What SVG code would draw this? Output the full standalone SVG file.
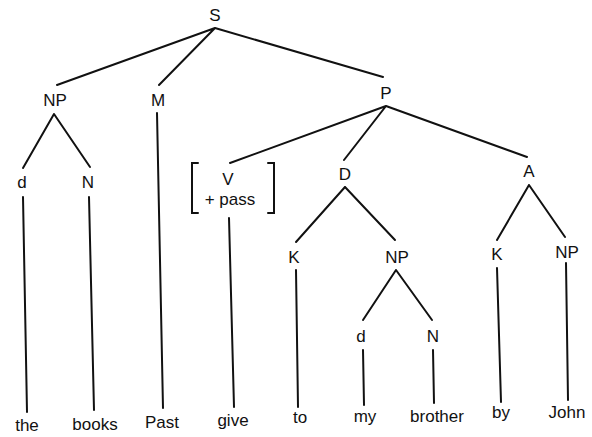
<svg xmlns="http://www.w3.org/2000/svg" width="592" height="437" viewBox="0 0 592 437">
<style>
text{font-family:"Liberation Sans",Arial,sans-serif;font-size:17px;fill:#111;text-anchor:middle}
.e{stroke:#111;stroke-width:2;fill:none;stroke-linecap:round}
</style>
<rect width="592" height="437" fill="#fff"/>
<g id="connectors" class="e">
<path d="M215 28L57 85M215 28L159 85M215 28L383 77"/>
<path d="M54 114L23 168M54 114L90 167"/>
<path d="M23 197L27 412M89 197L94 410M157 113L163 408"/>
<path d="M386 106L230 163M386 106L344 160M386 106L527 157"/>
<path d="M229 218L234 407"/>
<path d="M345 187L296 242M345 187L395 240"/>
<path d="M296 270L298 407"/>
<path d="M396 270L363 320M396 270L432 320"/>
<path d="M363 350L364 405M433 350L434 403"/>
<path d="M529 185L497 240M529 185L565 237"/>
<path d="M497 268L501 402M566 263L568 400"/>
</g>
<g id="S"><text x="215" y="21">S</text></g>
<g id="NP1"><text x="55" y="106">NP</text></g>
<g id="M"><text x="158" y="106">M</text></g>
<g id="P"><text x="386" y="99">P</text></g>
<g id="d1"><text x="22" y="188">d</text></g>
<g id="N1"><text x="88" y="188">N</text></g>
<g id="V">
<path class="e" d="M198 163H192V213H198M268 163H274V213H268"/>
<text x="228" y="185">V</text>
<text x="230" y="205">+ pass</text>
</g>
<g id="D"><text x="345" y="180">D</text></g>
<g id="A"><text x="529" y="177">A</text></g>
<g id="K1"><text x="294" y="263">K</text></g>
<g id="NP2"><text x="397" y="263">NP</text></g>
<g id="K2"><text x="497" y="260">K</text></g>
<g id="NP3"><text x="567" y="258">NP</text></g>
<g id="d2"><text x="361" y="342">d</text></g>
<g id="N2"><text x="433" y="342">N</text></g>
<g id="the"><text x="27" y="431">the</text></g>
<g id="books"><text x="95" y="430">books</text></g>
<g id="Past"><text x="162" y="428">Past</text></g>
<g id="give"><text x="233" y="426">give</text></g>
<g id="to"><text x="300" y="423">to</text></g>
<g id="my"><text x="365" y="422">my</text></g>
<g id="brother"><text x="437" y="422">brother</text></g>
<g id="by"><text x="501" y="418">by</text></g>
<g id="John"><text x="567" y="418">John</text></g>
</svg>
